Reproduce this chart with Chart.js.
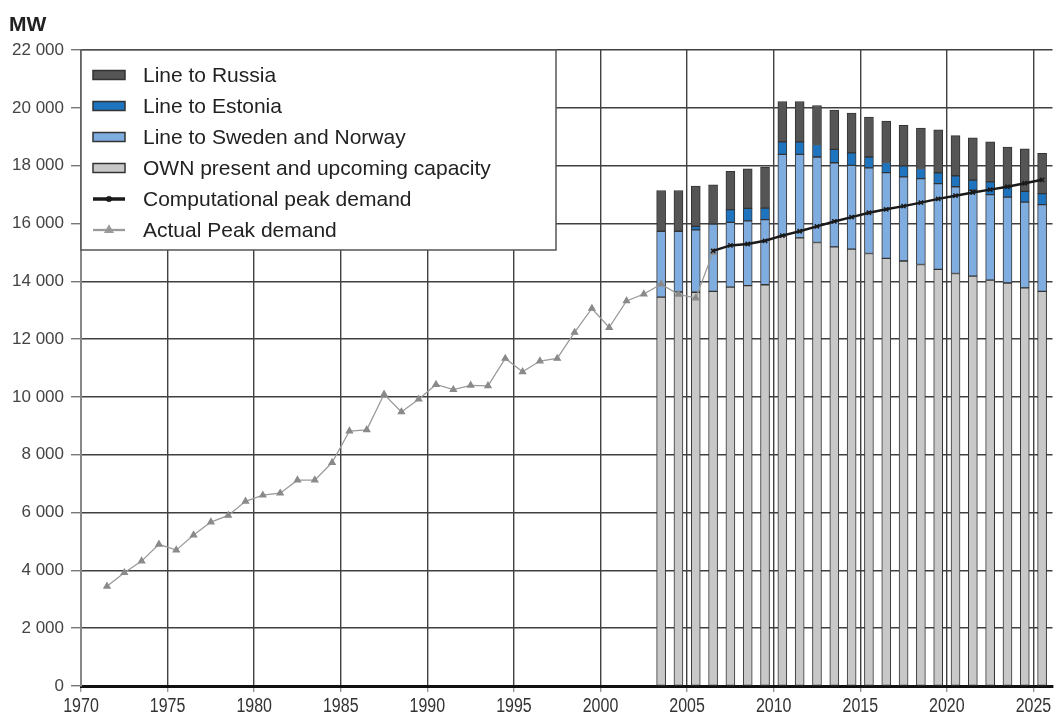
<!DOCTYPE html>
<html>
<head>
<meta charset="utf-8">
<title>Capacity and peak demand</title>
<script src="https://cdn.jsdelivr.net/npm/chart.js@4.4.1/dist/chart.umd.min.js"></script>
<style>
    html, body { margin: 0; padding: 0; background: #fff; }
    #wrap { width: 1058px; height: 718px; }
</style>
</head>
<body>
<div id="wrap"><canvas id="capacityChart" width="1058" height="718"></canvas></div>
<script>
// Capacity bars (MW), one per year
const barYears = [2003, 2004, 2005, 2006, 2007, 2008, 2009, 2010, 2011, 2012, 2013, 2014,
    2015, 2016, 2017, 2018, 2019, 2020, 2021, 2022, 2023, 2024, 2025];
const ownCapacity = [13450, 13630, 13620, 13650, 13800, 13850, 13880, 15560, 15500, 15340, 15190, 15110,
    14960, 14790, 14700, 14580, 14410, 14270, 14180, 14040, 13940, 13770, 13650];
const swedenNorway = [2280, 2100, 2160, 2330, 2240, 2240, 2250, 2830, 2890, 2960, 2910, 2900,
    2960, 2970, 2910, 2970, 2970, 3000, 2970, 2960, 2970, 2970, 3000];
const estonia = [0, 0, 120, 0, 440, 430, 400, 430, 430, 430, 460, 430,
    380, 350, 380, 350, 370, 380, 350, 440, 350, 370, 380];
const russia = [1410, 1410, 1390, 1360, 1320, 1370, 1420, 1400, 1400, 1350, 1360, 1380,
    1380, 1430, 1400, 1400, 1490, 1390, 1460, 1380, 1380, 1470, 1400];

// Actual peak demand (MW)
const actualYears = [1971, 1972, 1973, 1974, 1975, 1976, 1977, 1978, 1979, 1980, 1981, 1982,
    1983, 1984, 1985, 1986, 1987, 1988, 1989, 1990, 1991, 1992, 1993, 1994, 1995, 1996,
    1997, 1998, 1999, 2000, 2001, 2002, 2003, 2004, 2005, 2006];
const actualPeak = [3450, 3920, 4320, 4900, 4700, 5220, 5670, 5900, 6390, 6600, 6670, 7120,
    7120, 7730, 8820, 8860, 10090, 9480, 9920, 10430, 10250, 10400, 10380, 11330, 10870, 11240,
    11330, 12230, 13060, 12400, 13320, 13560, 13900, 13550, 13420, 15000];

// Computational peak demand (MW)
const computedYears = [2006, 2007, 2008, 2009, 2010, 2011, 2012, 2013, 2014, 2015,
    2016, 2017, 2018, 2019, 2020, 2021, 2022, 2023, 2024, 2025];
const computedPeak = [15050, 15240, 15290, 15400, 15580, 15730, 15900, 16070, 16220, 16370,
    16490, 16600, 16720, 16850, 16960, 17070, 17170, 17270, 17390, 17510];

// Axis ticks
const xTicks = [1970, 1975, 1980, 1985, 1990, 1995, 2000, 2005, 2010, 2015, 2020, 2025];
const yTicks = [0, 2000, 4000, 6000, 8000, 10000, 12000, 14000, 16000, 18000, 20000, 22000];

const legendOrder = ['Line to Russia', 'Line to Estonia', 'Line to Sweden and Norway',
    'OWN present and upcoming capacity', 'Computational peak demand', 'Actual Peak demand'];

// values sit in the middle of their year
const points = (years, values) => years.map((yr, i) => ({ x: yr + 0.5, y: values[i] }));

const barStyle = {
    type: 'bar',
    barThickness: 9,
    borderWidth: 1,
    borderColor: '#333',
    borderSkipped: false,
    order: 2
};

// Legend box in the top-left corner, unit label, and narrow year labels
const decorations = {
    id: 'decorations',
    afterDraw(chart) {
        const ctx = chart.ctx;
        const area = chart.chartArea;
        const boxW = 475, boxH = 200;
        ctx.save();
        ctx.fillStyle = '#fff';
        ctx.fillRect(area.left, area.top, boxW, boxH);
        ctx.strokeStyle = '#555';
        ctx.lineWidth = 1.5;
        ctx.strokeRect(area.left, area.top, boxW, boxH);

        ctx.font = '21px "Liberation Sans", Arial, sans-serif';
        ctx.textBaseline = 'middle';
        legendOrder.forEach((label, i) => {
            const ds = chart.data.datasets.find(d => d.label === label);
            const y = area.top + 25 + i * 31;
            const x0 = area.left + 12, x1 = area.left + 44;
            if (ds.type === 'bar') {
                ctx.fillStyle = ds.backgroundColor;
                ctx.strokeStyle = '#333';
                ctx.lineWidth = 1.5;
                ctx.fillRect(x0, y - 4.5, x1 - x0, 9);
                ctx.strokeRect(x0, y - 4.5, x1 - x0, 9);
            } else {
                ctx.strokeStyle = ds.borderColor;
                ctx.lineWidth = ds.borderWidth + 1;
                ctx.beginPath();
                ctx.moveTo(x0, y);
                ctx.lineTo(x1, y);
                ctx.stroke();
                ctx.fillStyle = ds.backgroundColor;
                Chart.helpers.drawPoint(ctx, {
                    pointStyle: ds.pointStyle,
                    radius: ds.pointRadius,
                    borderWidth: 1
                }, (x0 + x1) / 2, y);
            }
            ctx.fillStyle = '#222';
            ctx.fillText(label, area.left + 62, y + 1);
        });

        // unit label
        ctx.font = 'bold 21px "Liberation Sans", Arial, sans-serif';
        ctx.fillStyle = '#222';
        ctx.textBaseline = 'alphabetic';
        ctx.fillText('MW', 9, 31);

        // year labels, horizontally squeezed like the original
        const xScale = chart.scales.x;
        ctx.font = '20px "Liberation Sans", Arial, sans-serif';
        ctx.fillStyle = '#333';
        ctx.textAlign = 'center';
        xTicks.forEach(yr => {
            ctx.save();
            ctx.translate(xScale.getPixelForValue(yr), 712);
            ctx.scale(0.8, 1);
            ctx.fillText(String(yr), 0, 0);
            ctx.restore();
        });
        ctx.restore();
    }
};

new Chart(document.getElementById('capacityChart'), {
    type: 'bar',
    data: {
        datasets: [
            Object.assign({}, barStyle, {
                label: 'OWN present and upcoming capacity',
                data: points(barYears, ownCapacity),
                backgroundColor: '#c8c8c8'
            }),
            Object.assign({}, barStyle, {
                label: 'Line to Sweden and Norway',
                data: points(barYears, swedenNorway),
                backgroundColor: '#80ade0'
            }),
            Object.assign({}, barStyle, {
                label: 'Line to Estonia',
                data: points(barYears, estonia),
                backgroundColor: '#1f74c0'
            }),
            Object.assign({}, barStyle, {
                label: 'Line to Russia',
                data: points(barYears, russia),
                backgroundColor: '#555555'
            }),
            {
                type: 'line',
                label: 'Computational peak demand',
                stack: 'computed',
                data: points(computedYears, computedPeak),
                borderColor: '#1a1a1a',
                backgroundColor: '#1a1a1a',
                borderWidth: 2.5,
                pointStyle: 'crossRot',
                pointRadius: 3,
                pointBorderWidth: 1.5,
                tension: 0,
                order: 1
            },
            {
                type: 'line',
                label: 'Actual Peak demand',
                stack: 'actual',
                data: points(actualYears, actualPeak),
                borderColor: '#9a9a9a',
                backgroundColor: '#8a8a8a',
                pointBorderColor: '#8a8a8a',
                borderWidth: 1.3,
                pointStyle: 'triangle',
                pointRadius: 3.5,
                tension: 0,
                order: 1
            }
        ]
    },
    options: {
        responsive: false,
        animation: false,
        devicePixelRatio: 1,
        layout: {
            padding: { top: 50, right: 0, left: 0, bottom: 0 }
        },
        scales: {
            x: {
                type: 'linear',
                stacked: true,
                offset: false,
                min: 1970,
                max: 2026.1,
                afterBuildTicks: scale => { scale.ticks = xTicks.map(v => ({ value: v })); },
                afterFit: scale => { scale.height = 32; },
                ticks: { display: false },
                grid: {
                    offset: false,
                    color: '#404040',
                    lineWidth: 1.4,
                    tickLength: 6,
                    tickColor: '#999'
                },
                border: { color: '#111', width: 3 }
            },
            y: {
                stacked: true,
                min: 0,
                max: 22000,
                afterBuildTicks: scale => { scale.ticks = yTicks.map(v => ({ value: v })); },
                afterFit: scale => { scale.width = 81; },
                ticks: {
                    color: '#444',
                    padding: 7,
                    font: { family: '"Liberation Sans", Arial, sans-serif', size: 17 },
                    callback: v => v === 0 ? '0' : (v / 1000) + ' 000'
                },
                grid: {
                    color: '#404040',
                    lineWidth: 1.4,
                    tickLength: 10,
                    tickColor: '#777'
                },
                border: { color: '#888', width: 2 }
            }
        },
        plugins: {
            legend: { display: false },
            tooltip: { enabled: false }
        }
    },
    plugins: [decorations]
});
</script>
</body>
</html>
